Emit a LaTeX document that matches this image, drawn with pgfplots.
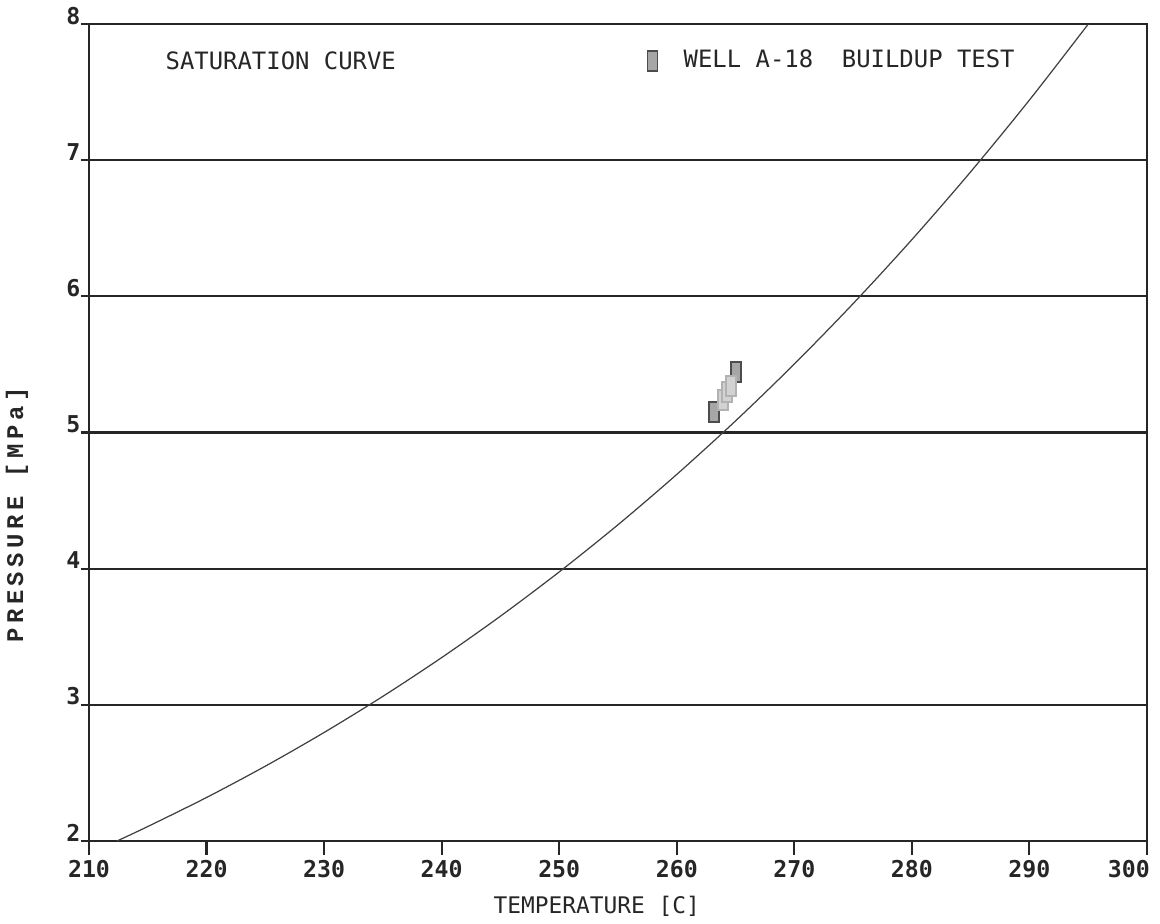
\documentclass[border=0pt]{standalone}
\usepackage{fontspec}
\setmainfont{DejaVu Sans Mono}
\newfontfamily\ylabfont[LetterSpace=19]{Liberation Mono}
\usepackage{pgfplots}
\pgfplotsset{compat=1.18}

% tall rectangular marker used for the buildup test points
\pgfdeclareplotmark{tallbox}{%
  \pgfpathrectangle{\pgfpoint{-0.5mm}{-1mm}}{\pgfpoint{1mm}{2mm}}%
  \pgfusepathqfillstroke}

\begin{document}
\begin{tikzpicture}
\path[use as bounding box] (-8.9mm,-8.2mm) rectangle (107.1mm,84.1mm);
\begin{axis}[
  scale only axis, width=105.8mm, height=81.7mm,
  xmin=210, xmax=300, ymin=2, ymax=8,
  xtick={210,220,...,290}, ytick={2,...,8},
  extra x ticks={300},
  extra x tick style={xticklabel style={anchor=north east, xshift=0.35mm}},
  tick align=outside,
  xtick pos=left, ytick pos=left,
  axis line style={line width=0.6pt, black!85},
  ymajorgrids,
  grid style={black!85, line width=0.6pt},
  major tick style={black!85, line width=0.6pt},
  major tick length=1.4mm,
  ytick style={/pgfplots/major tick length=0.8mm},
  /pgf/number format/assume math mode=true,
  ticklabel style={font=\bfseries\fontsize{6.6}{7}\selectfont, text=black!85},
  xticklabel style={anchor=north, inner sep=0pt, yshift=-0.5mm},
  yticklabel style={anchor=base east, inner sep=0pt, xshift=0.6mm},
  xlabel={TEMPERATURE [C]},
  xlabel style={at={(axis description cs:0.480,-0.0796)}, anchor=center,
    inner sep=0pt, font=\fontsize{6.5}{8}\selectfont, text=black!85},
  ylabel={PRESSURE [MPa]},
  ylabel style={at={(axis description cs:-0.0681,0.399)}, anchor=center,
    inner sep=0pt, text=black!85,
    font=\ylabfont\bfseries\fontsize{6.8}{8}\selectfont},
  legend style={at={(axis description cs:0.5274,0.9547)}, anchor=west,
    draw=none, inner sep=0pt,
    font=\fontsize{6.8}{8}\selectfont,
    nodes={inner sep=0pt, text=black!85},
    /tikz/every odd column/.append style={column sep=2.6mm}},
]
% saturation pressure of water
\addplot[black!75, line width=0.35pt, smooth, forget plot] coordinates {
  (212.38,2.000) (215,2.1063) (220,2.3196) (225,2.5497) (230,2.7971)
  (235,3.0624) (240,3.3469) (245,3.6512) (250,3.9762) (255,4.3226)
  (260,4.6923) (265,5.0853) (270,5.5030) (275,5.9464) (280,6.4166)
  (285,6.9146) (290,7.4418) (295,7.9990) (296,8.114)
};
% well A-18 buildup test
\addplot[only marks, mark=tallbox,
  mark options={fill=gray!70, draw=black!70, line width=0.4pt}]
  coordinates {(263.15,5.151) (265.04,5.444)};
\addlegendentry{WELL A-18\ \ BUILDUP TEST}
\addplot[only marks, mark=tallbox, forget plot,
  mark options={fill=gray!35, draw=gray!60, line width=0.4pt}]
  coordinates {(263.93,5.239) (264.27,5.297) (264.61,5.341)};

\node[anchor=west, inner sep=0pt, font=\fontsize{6.8}{8}\selectfont, text=black!85]
  at (axis description cs:0.0718,0.9547) {SATURATION CURVE};
\end{axis}
\end{tikzpicture}
\end{document}
